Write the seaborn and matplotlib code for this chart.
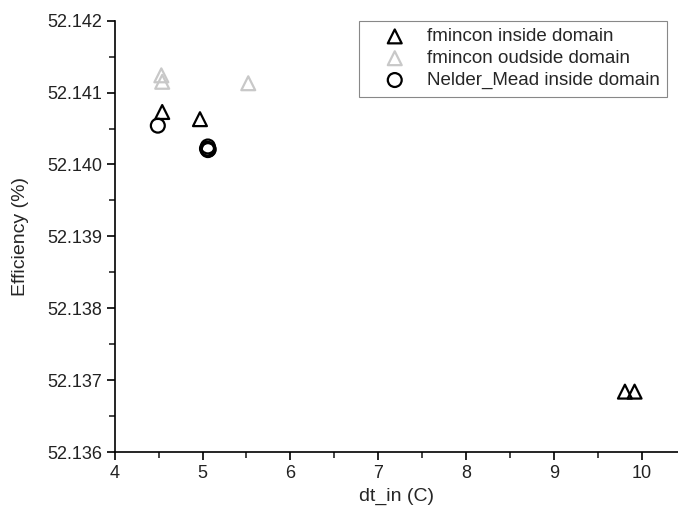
import matplotlib
matplotlib.use("Agg")
import matplotlib.pyplot as plt
from matplotlib.ticker import MultipleLocator, FormatStrFormatter
import seaborn as sns
import pandas as pd

# Kết quả tối ưu: dt_in (C) và hiệu suất (%)
fmincon_in_dt = [4.54, 4.97, 9.81, 9.92]
fmincon_in_eff = [52.14073, 52.14063, 52.13684, 52.13684]

fmincon_out_dt = [4.53, 4.54, 5.52]
fmincon_out_eff = [52.14124, 52.14115, 52.14113]

nelder_dt = [4.49, 5.05, 5.06, 5.07, 5.06]
nelder_eff = [52.14054, 52.14022, 52.14025, 52.14021, 52.14020]

LABELS = ["fmincon inside domain", "fmincon oudside domain", "Nelder_Mead inside domain"]

sns.set_theme(style="ticks")
plt.rcParams["font.family"] = ["Liberation Sans", "DejaVu Sans"]

W, H = 678, 517
fig = plt.figure(figsize=(W / 100, H / 100), dpi=100)
ax = fig.add_axes([114.8 / W, 65 / H, 1 - 114.8 / W, (452 - 20.7) / H])

series = [
    (fmincon_in_dt, fmincon_in_eff, "^", "black", LABELS[0]),
    (fmincon_out_dt, fmincon_out_eff, "^", "#c8c8c8", LABELS[1]),
    (nelder_dt, nelder_eff, "o", "black", LABELS[2]),
]
for xs, ys, mk, col, lab in series:
    df = pd.DataFrame({"dt": xs, "eff": ys})
    sns.scatterplot(data=df, x="dt", y="eff", marker=mk, s=100,
                    facecolors="none", edgecolor=col, linewidth=1.6,
                    label=lab, ax=ax)

ax.set_xlim(4, 4 + (W - 114.8) / 87.8)
ax.set_ylim(52.136, 52.142)
ax.xaxis.set_major_locator(MultipleLocator(1))
ax.xaxis.set_minor_locator(MultipleLocator(0.5))
ax.yaxis.set_major_locator(MultipleLocator(0.001))
ax.yaxis.set_minor_locator(MultipleLocator(0.0005))
ax.yaxis.set_major_formatter(FormatStrFormatter("%.3f"))
ax.xaxis.set_major_formatter(FormatStrFormatter("%d"))

for side in ["top", "right"]:
    ax.spines[side].set_visible(False)
for side in ["left", "bottom"]:
    ax.spines[side].set_linewidth(1.2)
    ax.spines[side].set_color("black")
ax.tick_params(which="major", direction="out", length=6, width=1.2, labelsize=13,
               colors="black", pad=3)
ax.tick_params(which="minor", direction="out", length=4, width=1.2)
ax.tick_params(labelcolor="#222222")

ax.set_xlabel("dt_in (C)", fontsize=14, va="center")
ax.set_ylabel("Efficiency (%)", fontsize=14, va="center")
ax.xaxis.set_label_coords(0.5, -44 / 431.3)
ax.yaxis.set_label_coords((21 - 114.8) / (W - 114.8), 0.5)

leg = ax.legend(loc="upper right", bbox_to_anchor=(667 / W, 1 - 20.7 / H),
                bbox_transform=fig.transFigure, borderaxespad=0, fontsize=13.5,
                fancybox=False, framealpha=1, edgecolor="#888888",
                handlelength=3.0, handletextpad=0.2, labelspacing=0.25, borderpad=0.4)
leg.get_frame().set_linewidth(0.8)

fig.savefig("out.png", dpi=100)
plt.close(fig)
